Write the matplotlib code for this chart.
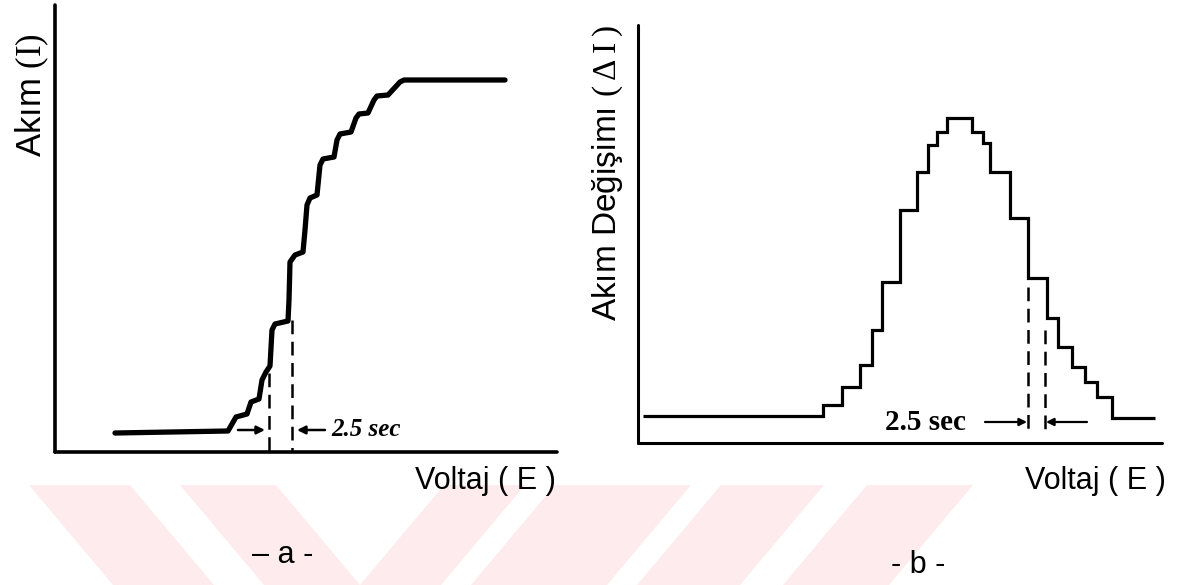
import matplotlib
matplotlib.use('Agg')
import matplotlib.pyplot as plt
from matplotlib.patches import Polygon

plt.rcParams['font.family'] = ['Liberation Sans', 'DejaVu Sans']
plt.rcParams['mathtext.fontset'] = 'custom'
plt.rcParams['mathtext.rm'] = 'Liberation Serif'

# --- data (arbitrary units, origin at the axes corner) ---
# (a) polarogram: current I vs voltage E, hand drawn staircase
a_E = [60, 173, 177, 181, 192, 196, 204, 207, 211, 215, 217, 220, 233,
       234, 235, 240, 248, 250, 252, 255, 262, 265, 268, 279, 282, 285,
       296, 301, 304, 313, 319, 322, 333, 345, 349, 450]
a_I = [19, 21, 28, 35, 38, 50, 53, 72, 80, 86, 122, 128, 131,
       152, 190, 197, 200, 222, 247, 254, 257, 287, 293, 295, 312, 318,
       320, 334, 338, 339, 352, 356, 357, 370, 372, 372]
a_drop_E = [214, 237]          # dashed drop lines
a_drop_top = [79, 132]

# (b) differential pulse: current change dI vs voltage E (step edges / levels)
b_E = [5, 185, 204, 222, 234, 244, 262, 279, 290, 299, 309, 334,
       345, 352, 372, 390, 409, 420, 434, 447, 459, 474, 517]
b_dI = [27, 38, 56, 78, 113, 161, 233, 271, 298, 311, 325,
        311, 300, 271, 225, 165, 125, 96, 76, 61, 46, 25]
b_drop_E = [390, 407]
b_drop_top = [156, 113]

W, H = 1179, 585
fig = plt.figure(figsize=(W / 100, H / 100), dpi=100)


def fx(x):
    return x / W


def fy(y):
    return 1 - y / H


# faint pink watermark in the lower band
pink = '#fdebee'
wm = [
    [(29, 485), (130, 485), (214, 585), (113, 585)],
    [(180, 485), (276, 485), (360, 585), (444, 485), (525, 485), (441, 585), (264, 585)],
    [(555, 485), (691, 485), (607, 585), (471, 585)],
    [(721, 485), (824, 485), (740, 585), (637, 585)],
    [(867, 485), (973, 485), (889, 585), (783, 585)],
]
for poly in wm:
    fig.patches.append(Polygon([(fx(x), fy(y)) for x, y in poly], closed=True,
                               transform=fig.transFigure, facecolor=pink,
                               edgecolor='none', zorder=0))


def bare_axes(left, bottom, right, top, lw):
    ax = fig.add_axes([fx(left), fy(bottom), (right - left) / W, (bottom - top) / H])
    ax.set_xlim(0, right - left)
    ax.set_ylim(0, bottom - top)
    ax.set_facecolor('none')
    for s in ['top', 'right']:
        ax.spines[s].set_visible(False)
    for s in ['left', 'bottom']:
        ax.spines[s].set_linewidth(lw)
        ax.spines[s].set_capstyle('round')
    ax.set_xticks([])
    ax.set_yticks([])
    return ax


dash = (0, (5.5, 3))

# ---- panel a ----
ax1 = bare_axes(55, 452, 557, 5, 2.6)
ax1.plot(a_E, a_I, color='black', lw=3.8, solid_joinstyle='round',
         solid_capstyle='round', clip_on=False)
for e, top in zip(a_drop_E, a_drop_top):
    ax1.plot([e, e], [top, 0], color='black', lw=1.8, ls=dash)
ax1.annotate('', xy=(210, 22), xytext=(183, 22),
             arrowprops=dict(arrowstyle='-|>', lw=1.8, color='black',
                             mutation_scale=12, shrinkA=0, shrinkB=0))
ax1.annotate('', xy=(242, 22), xytext=(270, 22),
             arrowprops=dict(arrowstyle='-|>', lw=1.8, color='black',
                             mutation_scale=12, shrinkA=0, shrinkB=0))
ax1.text(276, 23, '2.5 sec', ha='left', va='center', fontsize=18,
         fontweight='bold', fontstyle='italic', family='Liberation Serif')

# ---- panel b ----
ax2 = bare_axes(638, 443, 1162, 25, 2.2)
ax2.stairs(b_dI, b_E, baseline=None, color='black', lw=2.3)
for e, top in zip(b_drop_E, b_drop_top):
    ax2.plot([e, e], [top, 9], color='black', lw=1.8, ls=dash)
ax2.annotate('', xy=(389, 21), xytext=(347, 21),
             arrowprops=dict(arrowstyle='-|>', lw=1.6, color='black',
                             mutation_scale=11, shrinkA=0, shrinkB=0))
ax2.annotate('', xy=(408, 21), xytext=(449, 21),
             arrowprops=dict(arrowstyle='-|>', lw=1.6, color='black',
                             mutation_scale=11, shrinkA=0, shrinkB=0))
ax2.text(247, 21, '2.5 sec', ha='left', va='center', fontsize=21,
         fontweight='bold', family='Liberation Serif')

# ---- labels ----
fig.text(fx(32), fy(95), r'Akım $\mathrm{(I)}$', rotation=90, ha='center',
         va='center', fontsize=25)
fig.text(fx(608), fy(173), r'Akım Değişimı $\mathrm{(\,\Delta\,I\,)}$', rotation=90,
         ha='center', va='center', fontsize=24)
fig.text(fx(556), fy(481), 'Voltaj ( E )', ha='right', va='center', fontsize=22)
fig.text(fx(1166), fy(481), 'Voltaj ( E )', ha='right', va='center', fontsize=22)
fig.text(fx(283), fy(555), '– a -', ha='center', va='center', fontsize=22)
fig.text(fx(918), fy(565), '- b -', ha='center', va='center', fontsize=22)

fig.savefig('out.png', dpi=100)
